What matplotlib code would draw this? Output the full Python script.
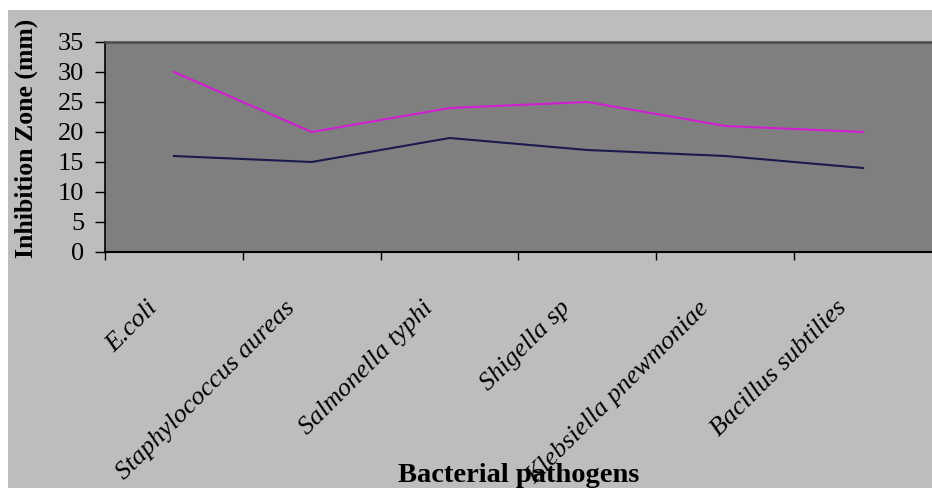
import numpy as np
import matplotlib
matplotlib.use("Agg")
import matplotlib.pyplot as plt
from matplotlib.patches import Rectangle
from matplotlib.transforms import ScaledTranslation

# ----- Data -----
pathogens = [
    "E.coli",
    "Staphylococcus aureas",
    "Salmonella typhi",
    "Shigella sp",
    "Klebsiella pnewmoniae",
    "Bacillus subtilies",
]
series_a = [16, 15, 19, 17, 16, 14]   # navy line
series_b = [30, 20, 24, 25, 21, 20]   # magenta line
y_ticks = [0, 5, 10, 15, 20, 25, 30, 35]

# ----- Figure -----
plt.rcParams['font.family'] = ['Liberation Serif', 'DejaVu Serif']
fig = plt.figure(figsize=(9.32, 4.88), dpi=100, facecolor='white')

# light gray chart area (white strip left and top like the original)
bg = Rectangle((8 / 932, 0), 1 - 8 / 932, 1 - 10 / 488,
               transform=fig.transFigure, facecolor='#bdbdbd',
               edgecolor='none', zorder=-10)
fig.add_artist(bg)

ax = fig.add_axes([105 / 932, 1 - 252 / 488, 1 - 105 / 932, 210 / 488])
ax.set_zorder(1)
ax.set_facecolor('#7f7f7f')

x = np.arange(len(pathogens))
ax.plot(x, series_a, color='#1a1a4d', lw=1.5)
ax.plot(x, series_b, color='#d21ed2', lw=1.5)

ax.set_xlim(-0.5, len(pathogens) - 0.5)
ax.set_ylim(0, 35)
ax.set_yticks(y_ticks)
ax.tick_params(axis='y', direction='out', length=7, width=1, pad=8,
               labelsize=19, colors='black')

# boundary tick marks as minor ticks, labels on major ticks (no mark)
ax.set_xticks(x - 0.5, minor=True)
ax.set_xticks(x)
ax.set_xticklabels(pathogens, fontsize=19, style='italic')
ax.tick_params(axis='x', which='minor', direction='out', length=6, width=1)
ax.tick_params(axis='x', which='major', length=0, pad=38)
offset = ScaledTranslation(-20 / 100, 0, fig.dpi_scale_trans)
for lab in ax.get_xticklabels():
    lab.set_rotation(45)
    lab.set_rotation_mode('anchor')
    lab.set_ha('right')
    lab.set_va('center')
    lab.set_transform(lab.get_transform() + offset)

ax.spines['right'].set_visible(False)
ax.spines['top'].set_color('#4a4a4a')
ax.spines['top'].set_linewidth(1.8)
ax.spines['left'].set_linewidth(1.2)
ax.spines['bottom'].set_linewidth(1.5)

ax.set_xlabel("Bacterial pathogens", fontsize=20.5, fontweight='bold')
ax.xaxis.set_label_coords(0.5, -1.095)
ax.xaxis.label.set_va('baseline')
ax.set_ylabel("Inhibition Zone (mm)", fontsize=18.5, fontweight='bold')
ax.yaxis.set_label_coords(-0.095, 0.54)
ax.yaxis.label.set_va('center')

fig.savefig('out.png', dpi=100, facecolor=fig.get_facecolor())
